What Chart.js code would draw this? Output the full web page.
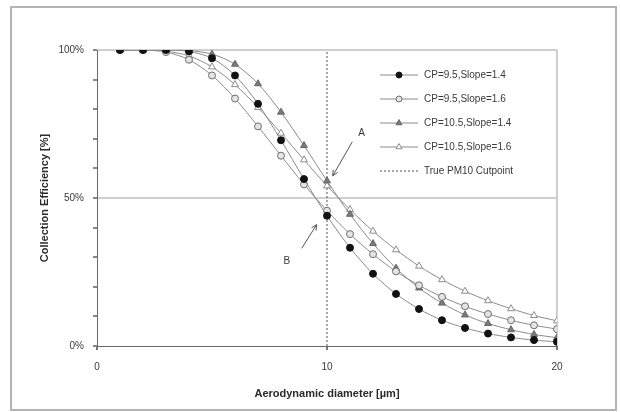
<!DOCTYPE html>
<html lang="en">
<head>
  <meta charset="UTF-8" />
  <title>Collection Efficiency</title>
  <script src="https://cdn.jsdelivr.net/npm/chart.js"></script>
  <style>
    body { margin: 0; background: #fff; font-family: "Liberation Sans", Arial, sans-serif; }
    .frame {
      position: absolute; left: 10px; top: 6px; width: 603px; height: 401px;
      border: 2px solid #b4b4b4; pointer-events: none;
    }
    canvas { position: absolute; left: 0; top: 0; }
  </style>
</head>
<body>
<canvas id="chart" width="620" height="412"></canvas>
<div class="frame"></div>
<script>
  // aerodynamic diameter (µm)
  const diameters = [1, 2, 3, 4, 5, 6, 7, 8, 9, 10, 11, 12, 13, 14, 15, 16, 17, 18, 19, 20];
  // collection efficiency (%)
  const cp95s14 = [100, 100, 100, 99.5, 97.2, 91.4, 81.8, 69.5, 56.4, 44.0, 33.2, 24.4, 17.6, 12.5, 8.7, 6.1, 4.2, 2.9, 2.0, 1.4];
  const cp95s16 = [100, 100, 99.3, 96.7, 91.4, 83.6, 74.2, 64.3, 54.6, 45.7, 37.8, 31.0, 25.2, 20.5, 16.6, 13.4, 10.8, 8.7, 7.0, 5.7];
  const cp105s14 = [100, 100, 100, 99.8, 98.6, 95.2, 88.6, 79.0, 67.7, 55.8, 44.5, 34.6, 26.3, 19.6, 14.5, 10.5, 7.6, 5.5, 3.9, 2.8];
  const cp105s16 = [100, 100, 99.6, 98.0, 94.3, 88.3, 80.6, 71.9, 62.9, 54.1, 46.1, 38.8, 32.5, 27.0, 22.4, 18.5, 15.3, 12.6, 10.3, 8.5];
  const cutpointX = [10, 10];
  const cutpointY = [0, 100];
  const seriesLabels = ["CP=9.5,Slope=1.4", "CP=9.5,Slope=1.6", "CP=10.5,Slope=1.4", "CP=10.5,Slope=1.6", "True PM10 Cutpoint"];
  const xTicks = [0, 10, 20];
  const yTicks = [0, 50, 100];
  // annotation letters: text position, arrow tail, arrow head (data units)
  const notes = [
    { text: "A", tx: 11.5, ty: 72, x1: 11.1, y1: 69, x2: 10.25, y2: 57.5 },
    { text: "B", tx: 8.25, ty: 28.5, x1: 8.9, y1: 33, x2: 9.55, y2: 41 }
  ];

  const pts = ys => diameters.map((d, i) => ({ x: d, y: ys[i] }));
  const FONT = "'Liberation Sans', Arial, sans-serif";
  const TXT = "#3a3a3a";

  const base = { showLine: true, borderColor: "#8a8a8a", borderWidth: 1, pointBorderWidth: 1, tension: 0.3 };
  const datasets = [
    { ...base, label: seriesLabels[0], data: pts(cp95s14), pointStyle: "circle", pointRadius: 3.5,
      pointBackgroundColor: "#111", pointBorderColor: "#111" },
    { ...base, label: seriesLabels[1], data: pts(cp95s16), pointStyle: "circle", pointRadius: 3.5,
      pointBackgroundColor: "#e4e4e4", pointBorderColor: "#6e6e6e" },
    { ...base, label: seriesLabels[2], data: pts(cp105s14), pointStyle: "triangle", pointRadius: 4,
      pointBackgroundColor: "#7a7a7a", pointBorderColor: "#666" },
    { ...base, label: seriesLabels[3], data: pts(cp105s16), pointStyle: "triangle", pointRadius: 4,
      pointBackgroundColor: "#fff", pointBorderColor: "#8c8c8c" },
    { label: seriesLabels[4], data: cutpointX.map((x, i) => ({ x, y: cutpointY[i] })), showLine: true,
      borderColor: "#555", borderWidth: 1, borderDash: [2, 2], pointRadius: 0 }
  ];
  // draw order: cutpoint first (behind), black circles last
  datasets[4].order = 5; datasets[3].order = 4; datasets[2].order = 3; datasets[1].order = 2; datasets[0].order = 1;

  const legendPlugin = {
    id: "boxLegend",
    afterDraw(chart) {
      const ctx = chart.ctx, a = chart.chartArea;
      const x0 = a.right - 177, y0 = a.top + 25;
      ctx.save();
      chart.data.datasets.forEach((ds, i) => {
        const y = y0 + i * 24;
        ctx.beginPath();
        ctx.setLineDash(ds.borderDash || []);
        ctx.strokeStyle = ds.borderColor;
        ctx.lineWidth = 1;
        ctx.moveTo(x0, y); ctx.lineTo(x0 + 38, y);
        ctx.stroke();
        ctx.setLineDash([]);
        if (ds.pointRadius) {
          ctx.fillStyle = ds.pointBackgroundColor;
          ctx.strokeStyle = ds.pointBorderColor;
          Chart.helpers.drawPoint(ctx, { pointStyle: ds.pointStyle, radius: ds.pointRadius - 0.5, rotation: 0, borderWidth: 1 }, x0 + 19, y);
        }
        ctx.fillStyle = TXT;
        ctx.font = "10px " + FONT;
        ctx.textBaseline = "middle";
        ctx.fillText(ds.label, x0 + 44, y);
      });
      ctx.restore();
    }
  };

  const notesPlugin = {
    id: "notes",
    afterDraw(chart) {
      const ctx = chart.ctx, sx = chart.scales.x, sy = chart.scales.y;
      ctx.save();
      notes.forEach(n => {
        ctx.fillStyle = TXT;
        ctx.font = "10px " + FONT;
        ctx.textAlign = "center";
        ctx.textBaseline = "middle";
        ctx.fillText(n.text, sx.getPixelForValue(n.tx), sy.getPixelForValue(n.ty));
        const ax = sx.getPixelForValue(n.x1), ay = sy.getPixelForValue(n.y1);
        const bx = sx.getPixelForValue(n.x2), by = sy.getPixelForValue(n.y2);
        ctx.strokeStyle = "#555";
        ctx.lineWidth = 1;
        ctx.beginPath(); ctx.moveTo(ax, ay); ctx.lineTo(bx, by); ctx.stroke();
        const ang = Math.atan2(by - ay, bx - ax);
        ctx.beginPath();
        ctx.moveTo(bx - 6 * Math.cos(ang - 0.45), by - 6 * Math.sin(ang - 0.45));
        ctx.lineTo(bx, by);
        ctx.lineTo(bx - 6 * Math.cos(ang + 0.45), by - 6 * Math.sin(ang + 0.45));
        ctx.stroke();
      });
      ctx.restore();
    }
  };

  new Chart(document.getElementById("chart"), {
    type: "scatter",
    data: { datasets },
    plugins: [legendPlugin, notesPlugin],
    options: {
      responsive: false,
      animation: false,
      layout: { padding: { left: 38, top: 50, right: 63, bottom: 9 } },
      plugins: { legend: { display: false }, tooltip: { enabled: false } },
      scales: {
        x: {
          type: "linear", min: 0, max: 20,
          afterBuildTicks: s => { s.ticks = xTicks.map(v => ({ value: v })); },
          afterFit: s => { s.height = 57; },
          ticks: { color: TXT, font: { family: FONT, size: 10 }, padding: 11, maxRotation: 0 },
          grid: {
            color: c => c.tick && c.tick.value === 20 ? "#cfcfcf" : "rgba(0,0,0,0)",
            lineWidth: 2, tickColor: "#777", tickLength: 4
          },
          border: { color: "#6a6a6a", width: 1 },
          title: { display: true, text: "Aerodynamic diameter [µm]", color: "#2a2a2a",
                   font: { family: FONT, size: 11, weight: "bold" }, padding: { top: 6, bottom: 2 } }
        },
        y: {
          min: 0, max: 100,
          ticks: { stepSize: 10, color: TXT, font: { family: FONT, size: 10 }, padding: 9,
                   callback: v => yTicks.includes(v) ? v + "%" : "" },
          afterFit: s => { s.width = 59; },
          grid: {
            color: c => c.tick && (c.tick.value === 50 || c.tick.value === 100) ? "#cfcfcf" : "rgba(0,0,0,0)",
            lineWidth: 2, tickColor: "#888", tickLength: 4
          },
          border: { color: "#6a6a6a", width: 1 },
          title: { display: true, text: "Collection Efficiency [%]", color: "#2a2a2a",
                   font: { family: FONT, size: 11, weight: "bold" }, padding: 0 }
        }
      }
    }
  });
</script>
</body>
</html>
